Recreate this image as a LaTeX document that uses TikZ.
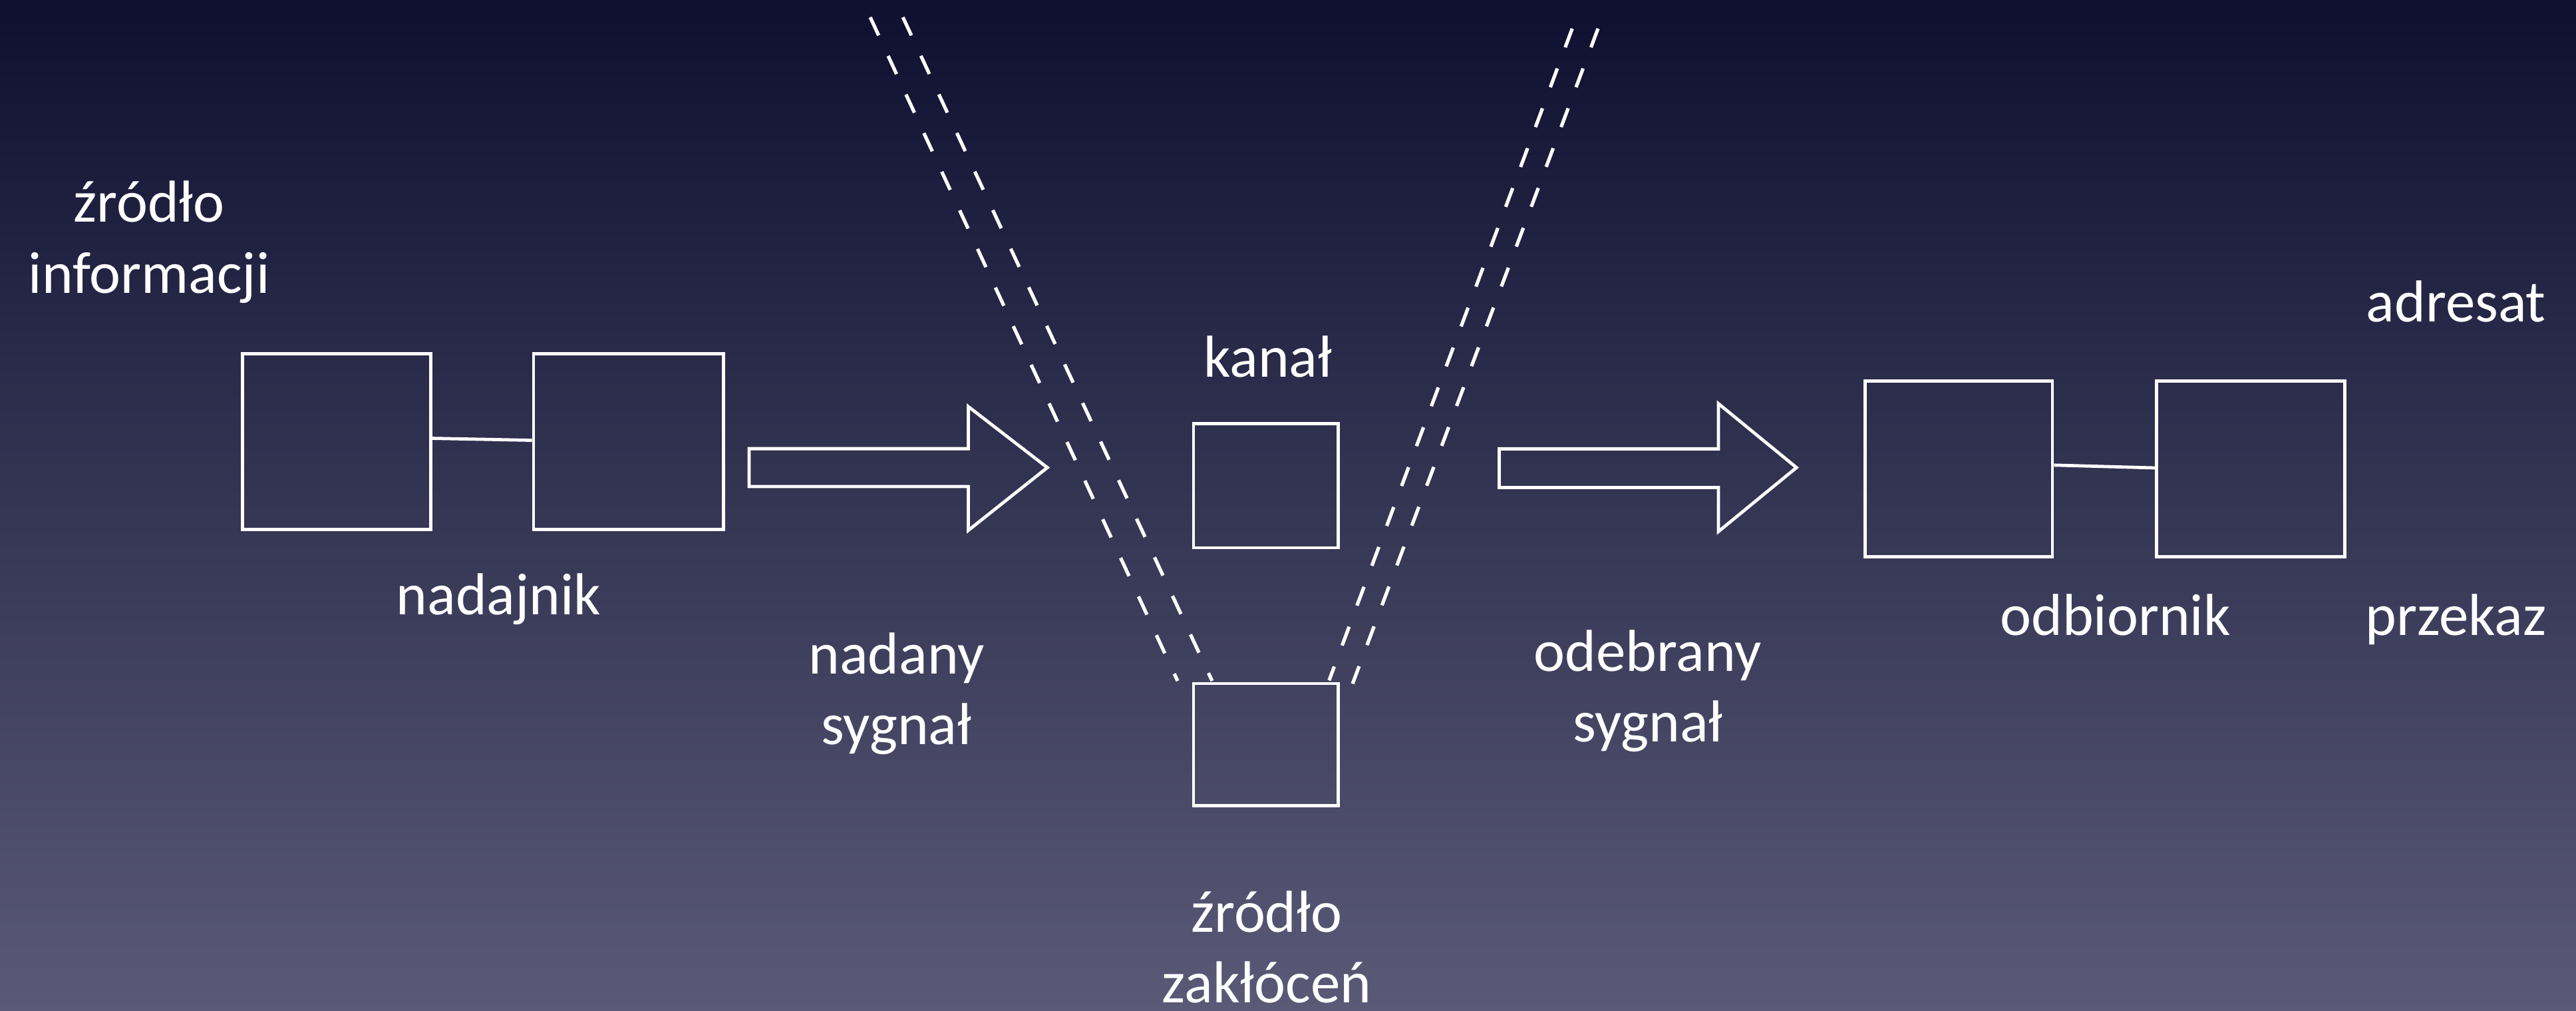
\documentclass[tikz,border=0pt]{standalone}
\usepackage{fontspec}
\setmainfont{Carlito}
\definecolor{bgtop}{HTML}{0F1030}
\definecolor{bgmid}{HTML}{2C2D54}
\definecolor{bgbot}{HTML}{5A5A77}
\begin{document}
\begin{tikzpicture}[x=0.02cm,y=-0.02cm,
  box/.style={draw=white, line width=1.1pt, inner sep=0pt},
  link/.style={draw=white, line width=1.1pt},
  blockarrow/.style={draw=white, line width=1.1pt, line join=miter},
  noise/.style={draw=white, line width=1.2pt, dash pattern=on 0.244cm off 0.274cm},
  lbl/.style={text=white, font=\fontsize{20.5pt}{24.5pt}\selectfont, inner sep=0pt, anchor=base, align=center}]
\useasboundingbox (0,0) rectangle (1568,615.13);
\shade[top color=bgtop, middle color=bgmid, bottom color=bgbot] (0,0) rectangle (1568,615.13);

% boxes
\node[box, minimum width=2.29cm, minimum height=2.14cm] (tx1) at (205,268.8) {};
\node[box, minimum width=2.31cm, minimum height=2.14cm] (tx2) at (382.5,268.8) {};
\node[box, minimum width=1.76cm, minimum height=1.51cm] (chan) at (770.5,295.5) {};
\node[box, minimum width=1.76cm, minimum height=1.49cm] (nsrc) at (770.5,453.1) {};
\node[box, minimum width=2.28cm, minimum height=2.14cm] (rx1) at (1192.3,285.4) {};
\node[box, minimum width=2.29cm, minimum height=2.14cm] (rx2) at (1370,285.4) {};

% links between boxes
\draw[link] ([yshift=0.042cm]tx1.east) -- ([yshift=0.018cm]tx2.west);
\draw[link] ([yshift=0.048cm]rx1.east) -- ([yshift=0.014cm]rx2.west);

% block arrows
\draw[blockarrow] (456,273) -- (589.4,273) -- (589.4,247.4) -- (637.5,284.5) -- (589.4,322.7) -- (589.4,296) -- (456,296) -- cycle;
\draw[blockarrow] (912.6,273.1) -- (1046,273.1) -- (1046,245.6) -- (1093.5,284.5) -- (1046,323.4) -- (1046,296.6) -- (912.6,296.6) -- cycle;

% noise dashed lines
\coordinate (l1a) at (529.7,10.5);  \coordinate (l1b) at (716.8,414.3);
\coordinate (l2a) at (549.6,10.5);  \coordinate (l2b) at (737.8,414.3);
\coordinate (r1a) at (957,17.4);    \coordinate (r1b) at (809,414);
\coordinate (r2a) at (972.7,17.4);  \coordinate (r2b) at (823.3,416);
\draw[noise] (l1a) -- (l1b);
\draw[noise] (l2a) -- (l2b);
\draw[noise] (r1a) -- (r1b);
\draw[noise] (r2a) -- (r2b);

% labels (multi-line labels anchored at the baseline of their last line)
\node[lbl] (t-src) at (90.8,178.2) {źródło\\informacji};
\node[lbl] (t-tx) at (303.5,373.9) {nadajnik};
\node[lbl] (t-sent) at (545.7,452.9) {nadany\\sygnał};
\node[lbl] (t-chan) at (771.8,229.5) {kanał};
\node[lbl] (t-noise) at (771,610) {źródło\\zakłóceń};
\node[lbl] (t-recv) at (1003,451.5) {odebrany\\sygnał};
\node[lbl] (t-rx) at (1287.6,386.5) {odbiornik};
\node[lbl] (t-msg) at (1494.8,386.5) {przekaz};
\node[lbl] (t-dest) at (1495,195.9) {adresat};
\end{tikzpicture}
\end{document}
